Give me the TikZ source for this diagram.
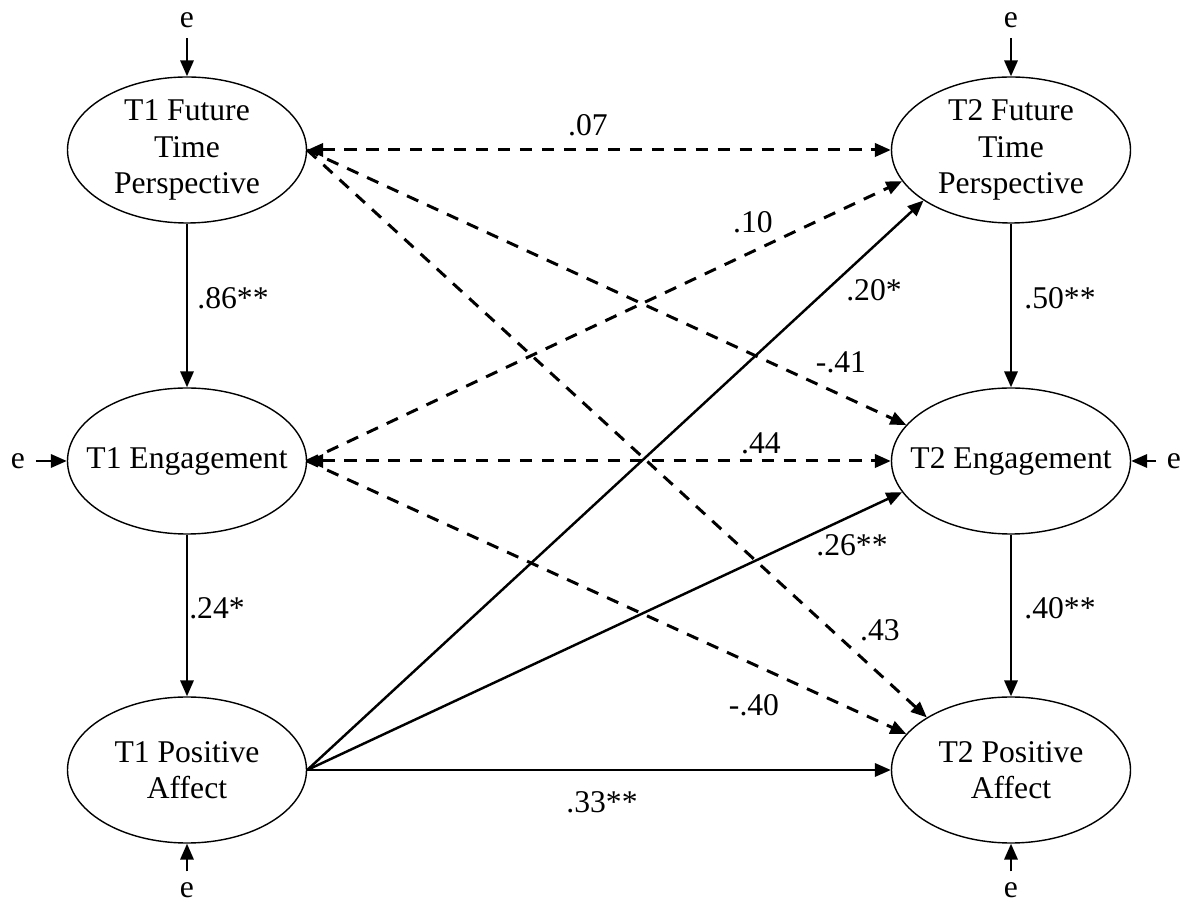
\documentclass[tikz,border=0pt]{standalone}
\usepackage{fontspec}
\setmainfont{Liberation Serif}
\usetikzlibrary{arrows.meta,positioning,shapes,calc}

\begin{document}
\begin{tikzpicture}[
  latent/.style={ellipse, draw, line width=0.8pt, minimum width=4.78cm, minimum height=2.92cm, inner xsep=-0.35cm, inner ysep=-2pt, align=center, font=\fontsize{18}{20.8}\selectfont},
  err/.style={inner sep=6pt, font=\fontsize{18}{20.8}\selectfont},
  coef/.style={inner sep=1pt, font=\fontsize{18}{20.8}\selectfont},
  tip/.style={-{Triangle[length=9pt,width=7.5pt]}},
  sig/.style={line width=1.4pt, tip},
  nsig/.style={sig, line width=1.7pt, dash pattern=on 7pt off 5.5pt},
  both/.style={{Triangle[length=9pt,width=7.5pt]}-{Triangle[length=9pt,width=7.5pt]}},
]

% page frame
\useasboundingbox (0,0) rectangle (23.84,18.04);

% Latent variables, T1 and T2
\node[latent] (T1ftp) at (3.74, 15.04) {T1 Future\\Time\\Perspective};
\node[latent] (T1eng) at (3.74, 8.82) {T1 Engagement};
\node[latent] (T1pa) at (3.74, 2.64) {T1 Positive\\Affect};

\node[latent] (T2ftp) at (20.22, 15.04) {T2 Future\\Time\\Perspective};
\node[latent] (T2eng) at (20.22, 8.82) {T2 Engagement};
\node[latent] (T2pa) at (20.22, 2.64) {T2 Positive\\Affect};

% Error terms
\node[err] (e1) at (3.74, 17.64) {e};
\node[err] (e2) at (0.36, 8.82) {e};
\node[err] (e3) at (3.74, 0.24) {e};
\node[err] (e4) at (20.22, 17.64) {e};
\node[err] (e5) at (23.48, 8.82) {e};
\node[err] (e6) at (20.22, 0.24) {e};

\draw[sig] (e1) -- (T1ftp);
\draw[sig] (e2) -- (T1eng);
\draw[sig] (e3) -- (T1pa);
\draw[sig] (e4) -- (T2ftp);
\draw[sig] (e5) -- (T2eng);
\draw[sig] (e6) -- (T2pa);

% Within-time paths
\draw[sig] (T1ftp) -- (T1eng);
\draw[sig] (T1eng) -- (T1pa);
\draw[sig] (T2ftp) -- (T2eng);
\draw[sig] (T2eng) -- (T2pa);

\node[coef] (c86) at (4.66, 12.08) {.86**};
\node[coef] (c24) at (4.34, 5.88) {.24*};
\node[coef] (c50) at (21.20, 12.08) {.50**};
\node[coef] (c40b) at (21.20, 5.88) {.40**};

% Cross-lagged paths (dashed = n.s.)
\draw[nsig, both] (T1ftp) -- (T2ftp);
\draw[nsig] (T1ftp.east) -- (T2eng.161);
\draw[nsig] (T1ftp.east) -- (T2pa.148);
\draw[nsig] (T1eng.east) -- (T2ftp.196);
\draw[nsig, both] (T1eng) -- (T2eng);
\draw[nsig] (T1eng.east) -- (T2pa.161);

% Cross-lagged paths from positive affect
\draw[sig] (T1pa.east) -- (T2ftp.210);
\draw[sig] (T1pa.east) -- (T2eng.196);
\draw[sig] (T1pa) -- (T2pa);

\node[coef] (c07) at (11.76, 15.54) {.07};
\node[coef] (c10) at (15.06, 13.60) {.10};
\node[coef] (c20) at (17.48, 12.24) {.20*};
\node[coef] (c41) at (16.82, 10.80) {-.41};
\node[coef] (c44) at (15.22, 9.18) {.44};
\node[coef] (c26) at (17.04, 7.14) {.26**};
\node[coef] (c43) at (17.60, 5.44) {.43};
\node[coef] (c40) at (15.08, 3.94) {-.40};
\node[coef] (c33) at (12.04, 2.00) {.33**};

\end{tikzpicture}
\end{document}
